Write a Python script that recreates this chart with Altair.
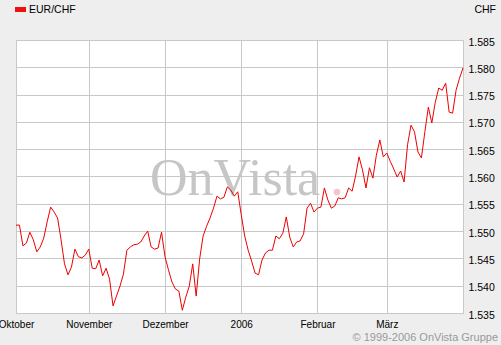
import altair as alt
import pandas as pd

# EUR/CHF daily closes, 3 Oct 2005 - 31 Mar 2006 (trading days)
values = [
    1.5511, 1.5511, 1.5473, 1.5478, 1.5498, 1.5484, 1.5462, 1.5471, 1.5487, 1.5517,
    1.5544, 1.5535, 1.5524, 1.5484, 1.5440, 1.5420, 1.5434, 1.5467, 1.5453, 1.5451,
    1.5456, 1.5467, 1.5432, 1.5431, 1.5447, 1.5418, 1.5432, 1.5412, 1.5363, 1.5381,
    1.5399, 1.5421, 1.5465, 1.5471, 1.5475, 1.5476, 1.5480, 1.5491, 1.5500, 1.5471,
    1.5467, 1.5469, 1.5498, 1.5453, 1.5429, 1.5407, 1.5394, 1.5390, 1.5355, 1.5379,
    1.5399, 1.5440, 1.5381, 1.5449, 1.5491, 1.5509, 1.5524, 1.5542, 1.5564, 1.5559,
    1.5562, 1.5581, 1.5575, 1.5564, 1.5572, 1.5530, 1.5491, 1.5465, 1.5445, 1.5423,
    1.5420, 1.5447, 1.5460, 1.5465, 1.5465, 1.5491, 1.5486, 1.5496, 1.5526, 1.5489,
    1.5471, 1.5480, 1.5482, 1.5495, 1.5542, 1.5551, 1.5535, 1.5542, 1.5544, 1.5579,
    1.5557, 1.5542, 1.5546, 1.5561, 1.5559, 1.5561, 1.5579, 1.5573, 1.5601, 1.5636,
    1.5612, 1.5579, 1.5616, 1.5597, 1.5639, 1.5667, 1.5636, 1.5643, 1.5628, 1.5614,
    1.5599, 1.5610, 1.5590, 1.5658, 1.5694, 1.5682, 1.5645, 1.5634, 1.5682, 1.5727,
    1.5698, 1.5736, 1.5762, 1.5758, 1.5771, 1.5718, 1.5716, 1.5758, 1.5780, 1.5799,
]
dates = list(pd.bdate_range("2005-10-03", "2006-03-31").strftime("%Y-%m-%d"))

month_starts = ["2005-10-03", "2005-11-01", "2005-12-01", "2006-01-02", "2006-02-01", "2006-03-01"]
month_labels = ["Oktober", "November", "Dezember", "2006", "Februar", "März"]
y_ticks = [1.535, 1.540, 1.545, 1.550, 1.555, 1.560, 1.565, 1.570, 1.575, 1.580, 1.585]

series_name = "EUR/CHF"
currency = "CHF"
copyright_text = "© 1999-2006 OnVista Gruppe"
watermark = "OnVista"

df = pd.DataFrame({"date": dates, "value": values})

label_map = "{" + ",".join(f"'{d}':'{l}'" for d, l in zip(month_starts, month_labels)) + "}"

FONT = "Liberation Sans"
GRID = "#c8c8c8"

x_enc = alt.X(
    "date:O",
    sort=None,
    scale=alt.Scale(type="point", padding=0, domain=dates),
    axis=alt.Axis(
        values=month_starts,
        labelExpr=f"{label_map}[datum.value]",
        grid=True, gridColor=GRID, gridWidth=1,
        ticks=False, domain=False, labelAngle=0,
        labelPadding=6, labelFont=FONT, labelFontSize=10, labelColor="#000000",
        title=None,
    ),
)
y_enc = alt.Y(
    "value:Q",
    scale=alt.Scale(domain=[1.535, 1.585], nice=False, zero=False),
    axis=alt.Axis(
        orient="right", values=y_ticks, format=".3f",
        grid=True, gridColor=GRID, gridWidth=1,
        ticks=False, domain=False, labelPadding=5, labelOffset=2,
        labelFont=FONT, labelFontSize=10.5, labelColor="#000000",
        title=None,
    ),
)

line = alt.Chart(df).mark_line(color="#ee0000", strokeWidth=1, interpolate="linear").encode(x=x_enc, y=y_enc)

one = pd.DataFrame({"a": [0]})

wm = alt.Chart(pd.DataFrame({"t": [watermark]})).mark_text(
    font="Liberation Serif", fontSize=52, color="#c6c6c6", align="left", baseline="alphabetic"
).encode(text="t:N", x=alt.value(134), y=alt.value(155))

wm_dot = alt.Chart(one).mark_point(filled=True, shape="circle", size=45, color="#f2c6cc", opacity=1).encode(
    x=alt.value(321), y=alt.value(152)
)

legend_box = alt.Chart(one).mark_rect(color="#ee1111").encode(
    x=alt.value(-1), x2=alt.value(10), y=alt.value(-33), y2=alt.value(-28)
)
legend_text = alt.Chart(pd.DataFrame({"t": [series_name]})).mark_text(
    font=FONT, fontSize=10.5, color="#000000", align="left", baseline="middle"
).encode(text="t:N", x=alt.value(13), y=alt.value(-30.5))

cur_text = alt.Chart(pd.DataFrame({"t": [currency]})).mark_text(
    font=FONT, fontSize=10.5, color="#000000", align="right", baseline="middle"
).encode(text="t:N", x=alt.value(480), y=alt.value(-30))

copy_text = alt.Chart(pd.DataFrame({"t": [copyright_text]})).mark_text(
    font=FONT, fontSize=11, color="#999999", align="right", baseline="middle"
).encode(text="t:N", x=alt.value(482), y=alt.value(298))

chart = alt.layer(wm, wm_dot, line, legend_box, legend_text, cur_text, copy_text).properties(
    width=447, height=273,
    autosize=alt.AutoSizeParams(type="none"),
    padding={"left": 16, "top": 40, "right": 38, "bottom": 32},
    background="#eeeeee",
).configure_view(
    stroke=GRID, strokeWidth=1, fill="#ffffff"
)

chart.save("out.html", embed_options={"renderer": "svg", "actions": False})
